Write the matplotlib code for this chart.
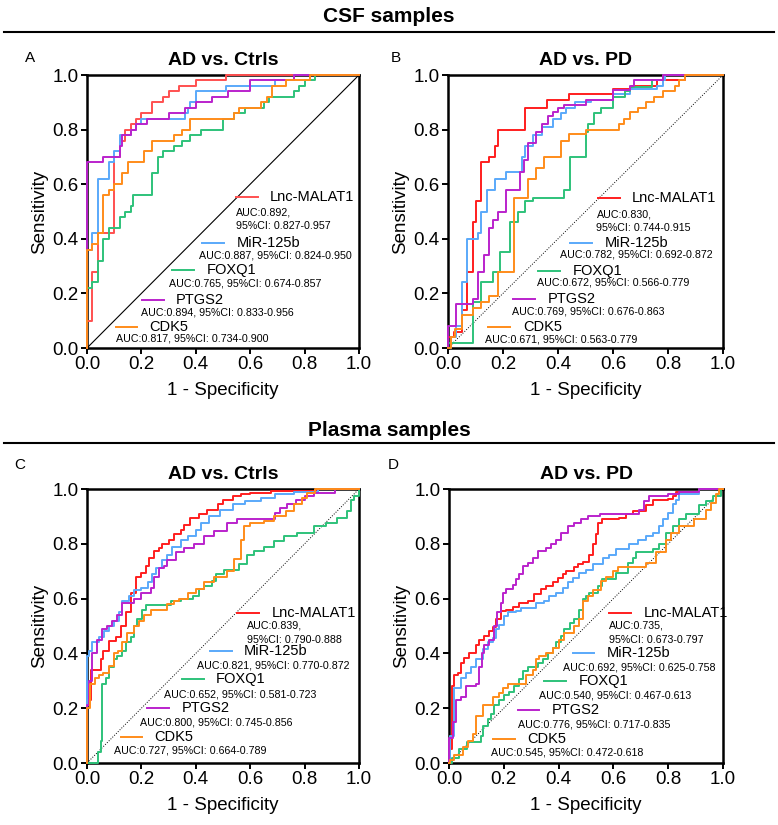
"""ROC curves of candidate AD biomarkers in CSF and plasma samples."""

import matplotlib

matplotlib.use("Agg")
import matplotlib.pyplot as plt
from matplotlib.lines import Line2D

plt.rcParams["font.family"] = ["Liberation Sans", "DejaVu Sans"]

MARKERS = ["Lnc-MALAT1", "MiR-125b", "FOXQ1", "PTGS2", "CDK5"]
COLORS = ["#FF1E1E", "#5AA9FA", "#2EC27A", "#BA22CC", "#FF8C1A"]
RED_CSF_CTRL = "#FF5050"  # panel A red is printed lighter
TICKS = [0.0, 0.2, 0.4, 0.6, 0.8, 1.0]
TICK_LABELS = ["0.0", "0.2", "0.4", "0.6", "0.8", "1.0"]

# ROC step points: (1 - specificity, sensitivity reached at that x)
# --- CSF, AD vs. Ctrls ---
A_MALAT1 = [(0, 0.10), (0.02, 0.28), (0.04, 0.42), (0.10, 0.70), (0.12, 0.76), (0.14, 0.80),
            (0.16, 0.82), (0.18, 0.84), (0.20, 0.86), (0.24, 0.90), (0.28, 0.92), (0.30, 0.94),
            (0.34, 0.96), (0.40, 0.98), (0.51, 1.0)]
A_MIR125B = [(0, 0.36), (0.02, 0.42), (0.04, 0.62), (0.08, 0.68), (0.10, 0.72), (0.12, 0.78),
             (0.16, 0.80), (0.18, 0.82), (0.20, 0.84), (0.36, 0.86), (0.37, 0.88), (0.38, 0.90),
             (0.40, 0.94), (0.51, 0.96), (0.69, 0.98), (0.76, 1.0)]
A_FOXQ1 = [(0, 0.22), (0.02, 0.24), (0.04, 0.32), (0.06, 0.40), (0.08, 0.44), (0.12, 0.48),
           (0.14, 0.50), (0.16, 0.52), (0.17, 0.56), (0.24, 0.64), (0.26, 0.70), (0.28, 0.72),
           (0.32, 0.74), (0.35, 0.76), (0.38, 0.78), (0.42, 0.80), (0.50, 0.84), (0.54, 0.86),
           (0.58, 0.88), (0.65, 0.90), (0.67, 0.92), (0.76, 0.94), (0.78, 0.96), (0.80, 0.98),
           (0.84, 1.0)]
A_PTGS2 = [(0, 0.68), (0.06, 0.70), (0.12, 0.74), (0.13, 0.78), (0.16, 0.80), (0.18, 0.82),
           (0.22, 0.84), (0.30, 0.86), (0.36, 0.88), (0.40, 0.90), (0.46, 0.92), (0.52, 0.94),
           (0.60, 0.98), (0.76, 1.0)]
A_CDK5 = [(0, 0.36), (0.02, 0.38), (0.04, 0.42), (0.06, 0.56), (0.08, 0.58), (0.10, 0.60),
          (0.13, 0.64), (0.15, 0.68), (0.21, 0.72), (0.24, 0.76), (0.32, 0.78), (0.35, 0.80),
          (0.38, 0.84), (0.54, 0.86), (0.56, 0.88), (0.64, 0.90), (0.66, 0.92), (0.68, 0.96),
          (0.73, 0.98), (0.82, 1.0)]

# --- CSF, AD vs. PD ---
B_MALAT1 = [(0.0, 0.04), (0.02, 0.06), (0.05, 0.14), (0.07, 0.28), (0.09, 0.46), (0.10, 0.54),
            (0.12, 0.68), (0.15, 0.70), (0.17, 0.74), (0.18, 0.80), (0.28, 0.88), (0.36, 0.91),
            (0.44, 0.93), (0.60, 0.95), (0.67, 0.96), (0.76, 0.98), (0.86, 1.0)]
B_MIR125B = [(0.01, 0.04), (0.03, 0.08), (0.05, 0.24), (0.07, 0.40), (0.11, 0.42), (0.12, 0.50),
             (0.14, 0.58), (0.17, 0.62), (0.21, 0.645), (0.27, 0.70), (0.28, 0.74), (0.31, 0.78),
             (0.34, 0.81), (0.38, 0.84), (0.41, 0.86), (0.43, 0.88), (0.46, 0.90), (0.52, 0.91),
             (0.60, 0.93), (0.66, 0.95), (0.76, 0.96), (0.78, 0.98), (0.79, 1.0)]
B_FOXQ1 = [(0.0, 0.02), (0.09, 0.17), (0.12, 0.24), (0.165, 0.28), (0.19, 0.35), (0.225, 0.46),
           (0.255, 0.50), (0.28, 0.54), (0.31, 0.55), (0.42, 0.58), (0.445, 0.70), (0.50, 0.79),
           (0.51, 0.82), (0.53, 0.86), (0.555, 0.88), (0.60, 0.92), (0.645, 0.94), (0.66, 0.955),
           (0.74, 0.98), (0.78, 1.0)]
B_PTGS2 = [(0.0, 0.08), (0.03, 0.16), (0.09, 0.18), (0.11, 0.28), (0.13, 0.34), (0.15, 0.44),
           (0.165, 0.47), (0.18, 0.50), (0.21, 0.58), (0.26, 0.645), (0.275, 0.69), (0.29, 0.75),
           (0.32, 0.79), (0.34, 0.82), (0.365, 0.85), (0.38, 0.865), (0.40, 0.88), (0.42, 0.89),
           (0.50, 0.91), (0.60, 0.945), (0.66, 0.96), (0.675, 0.98), (0.78, 1.0)]
B_CDK5 = [(0.01, 0.04), (0.025, 0.07), (0.05, 0.12), (0.09, 0.145), (0.12, 0.17), (0.15, 0.19),
          (0.18, 0.28), (0.24, 0.55), (0.29, 0.62), (0.32, 0.66), (0.35, 0.70), (0.41, 0.76),
          (0.44, 0.785), (0.50, 0.80), (0.62, 0.82), (0.64, 0.84), (0.66, 0.865), (0.69, 0.88),
          (0.72, 0.90), (0.75, 0.92), (0.78, 0.94), (0.825, 0.96), (0.84, 0.98), (0.86, 1.0)]

# --- Plasma, AD vs. Ctrls ---
C_MALAT1 = [(0.0, 0.23), (0.013, 0.34), (0.05, 0.38), (0.06, 0.41), (0.08, 0.445), (0.105, 0.46),
            (0.124, 0.50), (0.142, 0.55), (0.16, 0.62), (0.18, 0.68), (0.20, 0.695), (0.216, 0.72),
            (0.228, 0.75), (0.246, 0.775), (0.265, 0.785), (0.277, 0.80), (0.30, 0.815),
            (0.32, 0.835), (0.344, 0.85), (0.357, 0.87), (0.38, 0.895), (0.41, 0.91),
            (0.44, 0.925), (0.48, 0.944), (0.50, 0.96), (0.535, 0.975), (0.565, 0.98),
            (0.60, 0.985), (0.675, 0.993), (0.85, 1.0)]
C_MIR125B = [(0.0, 0.39), (0.007, 0.41), (0.02, 0.44), (0.044, 0.46), (0.0625, 0.48), (0.081, 0.50),
             (0.10, 0.52), (0.118, 0.55), (0.13, 0.59), (0.154, 0.61), (0.173, 0.63), (0.197, 0.64),
             (0.225, 0.66), (0.24, 0.69), (0.252, 0.71), (0.277, 0.74), (0.295, 0.76),
             (0.314, 0.79), (0.344, 0.815), (0.37, 0.83), (0.40, 0.85), (0.42, 0.875),
             (0.45, 0.90), (0.49, 0.925), (0.535, 0.944), (0.58, 0.956), (0.64, 0.968),
             (0.69, 0.98), (0.76, 0.99), (0.85, 1.0)]
C_FOXQ1 = [(0.03, 0.0), (0.04, 0.04), (0.05, 0.08), (0.056, 0.29), (0.069, 0.31), (0.081, 0.35),
           (0.10, 0.38), (0.11, 0.39), (0.13, 0.41), (0.142, 0.44), (0.16, 0.46), (0.173, 0.50),
           (0.185, 0.525), (0.203, 0.56), (0.216, 0.575), (0.308, 0.59), (0.344, 0.60),
           (0.39, 0.61), (0.412, 0.635), (0.43, 0.645), (0.46, 0.665), (0.473, 0.69),
           (0.504, 0.705), (0.56, 0.725), (0.59, 0.76), (0.614, 0.775), (0.65, 0.79),
           (0.687, 0.81), (0.724, 0.83), (0.773, 0.84), (0.835, 0.865), (0.877, 0.877),
           (0.92, 0.895), (0.957, 0.92), (0.969, 0.96), (0.98, 0.975), (1.0, 1.0)]
C_PTGS2 = [(0.0, 0.21), (0.006, 0.30), (0.02, 0.40), (0.038, 0.45), (0.056, 0.49), (0.075, 0.50),
           (0.093, 0.52), (0.11, 0.54), (0.13, 0.585), (0.173, 0.60), (0.20, 0.62), (0.234, 0.64),
           (0.246, 0.68), (0.265, 0.71), (0.283, 0.72), (0.295, 0.74), (0.326, 0.77),
           (0.357, 0.785), (0.393, 0.80), (0.43, 0.83), (0.467, 0.845), (0.516, 0.875),
           (0.55, 0.89), (0.69, 0.914), (0.71, 0.93), (0.736, 0.944), (0.77, 0.96),
           (0.80, 0.975), (0.835, 0.985), (0.91, 1.0)]
C_CDK5 = [(0.0, 0.20), (0.01, 0.29), (0.03, 0.31), (0.044, 0.32), (0.06, 0.33), (0.08, 0.355),
          (0.10, 0.40), (0.113, 0.41), (0.13, 0.44), (0.148, 0.475), (0.173, 0.50), (0.19, 0.52),
          (0.21, 0.54), (0.234, 0.56), (0.295, 0.58), (0.32, 0.59), (0.338, 0.60), (0.37, 0.62),
          (0.40, 0.635), (0.43, 0.66), (0.467, 0.68), (0.516, 0.70), (0.54, 0.745),
          (0.565, 0.815), (0.577, 0.865), (0.60, 0.875), (0.65, 0.885), (0.687, 0.90),
          (0.73, 0.92), (0.76, 0.944), (0.79, 0.968), (0.81, 0.985), (0.84, 1.0)]

# --- Plasma, AD vs. PD ---
D_MALAT1 = [(0.005, 0.05), (0.011, 0.28), (0.019, 0.32), (0.032, 0.33), (0.044, 0.365),
            (0.056, 0.385), (0.074, 0.40), (0.099, 0.43), (0.111, 0.45), (0.129, 0.465),
            (0.147, 0.48), (0.159, 0.495), (0.172, 0.525), (0.19, 0.555), (0.208, 0.56),
            (0.232, 0.57), (0.257, 0.585), (0.287, 0.59), (0.311, 0.615), (0.336, 0.635),
            (0.354, 0.645), (0.378, 0.66), (0.397, 0.675), (0.415, 0.69), (0.427, 0.70),
            (0.457, 0.715), (0.47, 0.725), (0.49, 0.735), (0.51, 0.76), (0.525, 0.80),
            (0.535, 0.835), (0.545, 0.877), (0.56, 0.89), (0.62, 0.895), (0.646, 0.91),
            (0.67, 0.92), (0.72, 0.94), (0.743, 0.96), (0.80, 0.965), (0.816, 0.975),
            (0.828, 0.99), (0.914, 1.0)]
D_MIR125B = [(0.005, 0.10), (0.02, 0.275), (0.044, 0.31), (0.062, 0.33), (0.08, 0.35),
             (0.099, 0.38), (0.123, 0.415), (0.141, 0.44), (0.159, 0.457), (0.172, 0.49),
             (0.184, 0.505), (0.202, 0.535), (0.214, 0.55), (0.245, 0.555), (0.263, 0.567),
             (0.318, 0.585), (0.348, 0.59), (0.366, 0.61), (0.39, 0.62), (0.415, 0.64),
             (0.433, 0.66), (0.451, 0.675), (0.476, 0.695), (0.50, 0.705), (0.524, 0.725),
             (0.561, 0.75), (0.585, 0.76), (0.61, 0.78), (0.658, 0.80), (0.689, 0.815),
             (0.719, 0.83), (0.743, 0.84), (0.768, 0.865), (0.78, 0.89), (0.798, 0.913),
             (0.816, 0.944), (0.828, 0.96), (0.84, 0.98), (0.914, 1.0)]
D_FOXQ1 = [(0.01, 0.02), (0.038, 0.05), (0.065, 0.078), (0.115, 0.10), (0.123, 0.135),
           (0.141, 0.16), (0.155, 0.18), (0.165, 0.21), (0.184, 0.23), (0.202, 0.25),
           (0.22, 0.26), (0.238, 0.28), (0.257, 0.305), (0.269, 0.335), (0.287, 0.35),
           (0.324, 0.365), (0.342, 0.38), (0.36, 0.40), (0.378, 0.42), (0.39, 0.44),
           (0.409, 0.465), (0.42, 0.49), (0.44, 0.51), (0.457, 0.525), (0.476, 0.56),
           (0.488, 0.60), (0.50, 0.61), (0.512, 0.62), (0.543, 0.645), (0.56, 0.67),
           (0.61, 0.695), (0.652, 0.73), (0.67, 0.75), (0.682, 0.77), (0.743, 0.78),
           (0.768, 0.80), (0.792, 0.84), (0.816, 0.865), (0.84, 0.89), (0.865, 0.91),
           (0.914, 0.94), (0.938, 0.955), (0.962, 0.975), (0.993, 1.0)]
D_PTGS2 = [(0.0, 0.09), (0.013, 0.15), (0.026, 0.23), (0.044, 0.24), (0.062, 0.28), (0.099, 0.29),
           (0.111, 0.35), (0.12, 0.40), (0.129, 0.43), (0.147, 0.45), (0.165, 0.50), (0.175, 0.55),
           (0.19, 0.585), (0.196, 0.62), (0.208, 0.635), (0.232, 0.65), (0.245, 0.67),
           (0.257, 0.69), (0.269, 0.72), (0.287, 0.73), (0.305, 0.75), (0.324, 0.775),
           (0.354, 0.785), (0.372, 0.80), (0.39, 0.815), (0.409, 0.84), (0.433, 0.865),
           (0.457, 0.877), (0.482, 0.89), (0.506, 0.90), (0.55, 0.91), (0.695, 0.925),
           (0.713, 0.955), (0.731, 0.975), (0.80, 0.98), (0.84, 0.99), (0.914, 1.0)]
D_CDK5 = [(0.005, 0.01), (0.02, 0.03), (0.05, 0.06), (0.07, 0.08), (0.086, 0.105), (0.099, 0.17),
          (0.123, 0.21), (0.159, 0.24), (0.184, 0.257), (0.196, 0.275), (0.214, 0.29),
          (0.281, 0.32), (0.305, 0.34), (0.318, 0.38), (0.33, 0.39), (0.354, 0.40),
          (0.378, 0.42), (0.403, 0.45), (0.421, 0.475), (0.457, 0.50), (0.476, 0.525),
          (0.488, 0.59), (0.506, 0.61), (0.524, 0.63), (0.555, 0.665), (0.573, 0.68),
          (0.597, 0.70), (0.616, 0.715), (0.719, 0.73), (0.755, 0.77), (0.792, 0.815),
          (0.81, 0.84), (0.84, 0.865), (0.895, 0.89), (0.938, 0.925), (0.956, 0.95),
          (0.974, 0.98), (0.987, 1.0)]

# AUC and 95% CI per marker, panels A-D
A_AUC = [("0.892", "0.827-0.957"), ("0.887", "0.824-0.950"), ("0.765", "0.674-0.857"),
         ("0.894", "0.833-0.956"), ("0.817", "0.734-0.900")]
B_AUC = [("0.830", "0.744-0.915"), ("0.782", "0.692-0.872"), ("0.672", "0.566-0.779"),
         ("0.769", "0.676-0.863"), ("0.671", "0.563-0.779")]
C_AUC = [("0.839", "0.790-0.888"), ("0.821", "0.770-0.872"), ("0.652", "0.581-0.723"),
         ("0.800", "0.745-0.856"), ("0.727", "0.664-0.789")]
D_AUC = [("0.735", "0.673-0.797"), ("0.692", "0.625-0.758"), ("0.540", "0.467-0.613"),
         ("0.776", "0.717-0.835"), ("0.545", "0.472-0.618")]

# legend placement in axes data coords: line left x, row y, AUC text x, AUC text y
LEGEND_LAYOUT = {
    "A": ([0.547, 0.424, 0.314, 0.203, 0.105], [0.553, 0.386, 0.284, 0.175, 0.077],
          [0.547, 0.412, 0.301, 0.197, 0.105], [0.498, 0.339, 0.236, 0.129, 0.034]),
    "B": ([0.544, 0.444, 0.328, 0.238, 0.147], [0.549, 0.386, 0.282, 0.180, 0.077],
          [0.540, 0.407, 0.322, 0.232, 0.135], [0.490, 0.342, 0.239, 0.134, 0.030]),
    "C": ([0.553, 0.452, 0.350, 0.222, 0.124], [0.549, 0.409, 0.308, 0.202, 0.096],
          [0.590, 0.406, 0.283, 0.195, 0.100], [0.500, 0.356, 0.250, 0.147, 0.044]),
    "D": ([0.585, 0.451, 0.348, 0.250, 0.160], [0.549, 0.403, 0.300, 0.193, 0.086],
          [0.585, 0.415, 0.330, 0.250, 0.153], [0.500, 0.348, 0.245, 0.141, 0.038]),
}

PANELS = [
    ("A", "AD vs. Ctrls", [A_MALAT1, A_MIR125B, A_FOXQ1, A_PTGS2, A_CDK5], A_AUC, "-",
     [87, 75, 272, 273]),
    ("B", "AD vs. PD", [B_MALAT1, B_MIR125B, B_FOXQ1, B_PTGS2, B_CDK5], B_AUC, ":",
     [448, 75, 275, 273]),
    ("C", "AD vs. Ctrls", [C_MALAT1, C_MIR125B, C_FOXQ1, C_PTGS2, C_CDK5], C_AUC, ":",
     [87, 489, 272, 274]),
    ("D", "AD vs. PD", [D_MALAT1, D_MIR125B, D_FOXQ1, D_PTGS2, D_CDK5], D_AUC, ":",
     [449, 489, 274, 274]),
]

W, H = 778, 825


def draw_panel(fig, letter, title, curves, aucs, diag_style, box):
    left, top, width, height = box
    ax = fig.add_axes([left / W, 1 - (top + height) / H, width / W, height / H])

    colors = list(COLORS)
    if letter == "A":
        colors[0] = RED_CSF_CTRL

    ax.plot([0, 1], [0, 1], color="black", lw=0.8 if diag_style == "-" else 0.7,
            linestyle=diag_style, zorder=1)

    for pts, color in zip(curves, colors):
        xs = [0.0] + [p[0] for p in pts] + [1.0]
        ys = [0.0] + [p[1] for p in pts] + [1.0]
        ax.step(xs, ys, where="post", color=color, lw=1.4, clip_on=False, zorder=3)

    line_x, row_y, auc_x, auc_y = LEGEND_LAYOUT[letter]
    for i, (name, color, (auc, ci)) in enumerate(zip(MARKERS, colors, aucs)):
        ax.plot([line_x[i], line_x[i] + 0.08], [row_y[i], row_y[i]], color=color, lw=1.4)
        ax.text(line_x[i] + 0.125, row_y[i], name, fontsize=10.5, va="center", ha="left")
        if i == 0:
            ax.text(auc_x[i], auc_y[i], f"AUC:{auc},", fontsize=7.7, va="center")
            ax.text(auc_x[i], auc_y[i] - 0.051, f"95%CI: {ci}", fontsize=7.7, va="center")
        else:
            ax.text(auc_x[i], auc_y[i], f"AUC:{auc}, 95%CI: {ci}", fontsize=7.7, va="center")

    ax.set_xlim(0, 1)
    ax.set_ylim(0, 1)
    ax.set_xticks(TICKS)
    ax.set_yticks(TICKS)
    ax.set_xticklabels(TICK_LABELS)
    ax.set_yticklabels(TICK_LABELS)
    ax.tick_params(direction="out", length=4, width=1.4, labelsize=13.5, pad=2)
    for spine in ax.spines.values():
        spine.set_linewidth(1.8)
    ax.set_xlabel("1 - Specificity", fontsize=13.5, labelpad=6)
    ax.set_ylabel("Sensitivity", fontsize=13.5, labelpad=3)
    ax.set_title(title, fontsize=14, fontweight="bold", pad=7)
    return ax


def main():
    fig = plt.figure(figsize=(W / 100, H / 100), dpi=100)

    for letter, title, curves, aucs, diag_style, box in PANELS:
        draw_panel(fig, letter, title, curves, aucs, diag_style, box)

    # section headers with rules
    for label, text_y, rule_y in [("CSF samples", 17, 32), ("Plasma samples", 430, 443)]:
        fig.text(0.5, 1 - text_y / H, label, ha="center", va="center",
                 fontsize=15, fontweight="bold")
        fig.add_artist(Line2D([4 / W, 774 / W], [1 - rule_y / H] * 2, color="black", lw=1.5))

    for letter, x, y in [("A", 30, 58), ("B", 396, 58), ("C", 20, 465), ("D", 393, 465)]:
        fig.text(x / W, 1 - y / H, letter, ha="center", va="center", fontsize=11)

    fig.savefig("out.png", dpi=100)
    plt.close(fig)


if __name__ == "__main__":
    main()
